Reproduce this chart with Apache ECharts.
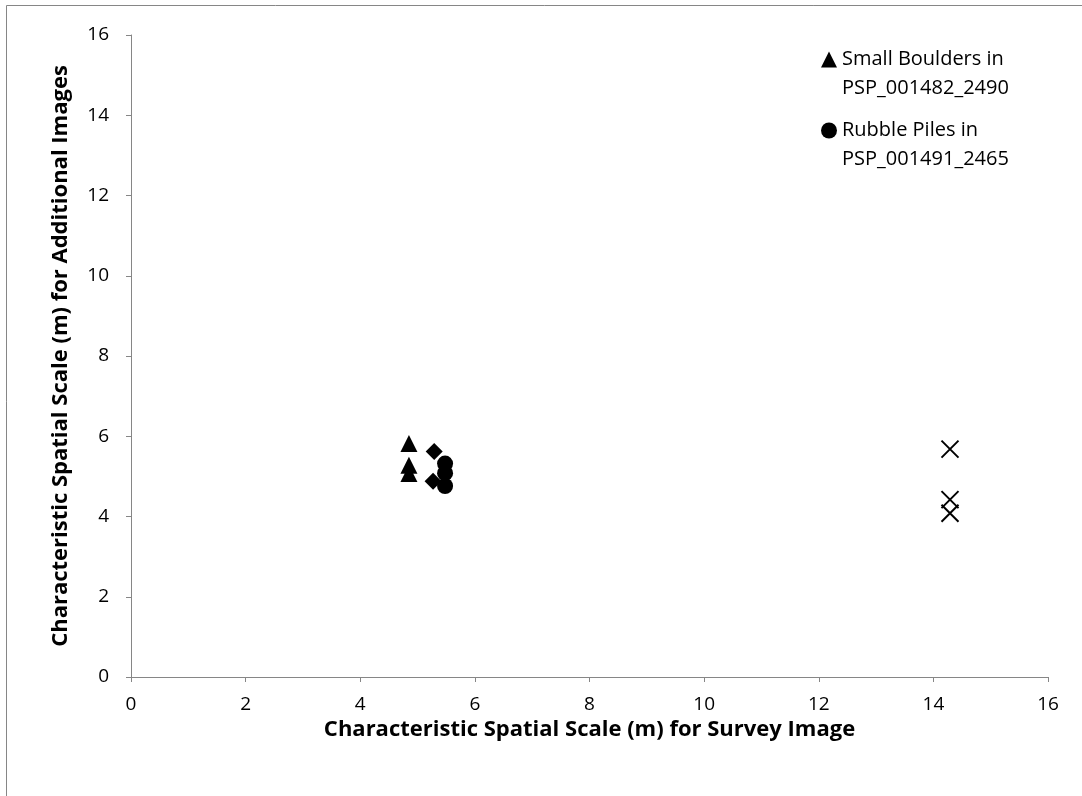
<!DOCTYPE html>
<html>
<head>
<meta charset="utf-8">
<script src="https://cdn.jsdelivr.net/npm/echarts@6/dist/echarts.min.js"></script>
<style>
  html, body { margin: 0; padding: 0; background: #fff; }
  #chart { width: 1082px; height: 796px; }
</style>
</head>
<body>
<div id="chart"></div>
<script>
// Survey-image scale (x) vs additional-image scale (y), metres
const boulders = [[4.85, 5.82], [4.85, 5.28], [4.85, 5.07]];
const rubble = [[5.48, 5.32], [5.48, 5.08], [5.48, 4.76]];
const diamonds = [[5.29, 5.62], [5.27, 4.88]];
const crosses = [[14.29, 5.68], [14.29, 4.42], [14.29, 4.08]];
const axisTicks = [0, 2, 4, 6, 8, 10, 12, 14, 16];

const legendNames = ['Small Boulders in\nPSP_001482_2490', 'Rubble Piles in\nPSP_001491_2465'];
const xTitle = 'Characteristic Spatial Scale (m) for Survey Image';
const yTitle = 'Characteristic Spatial Scale (m) for Additional Images';

const FONT = '"Open Sans", sans-serif';
const axisColor = '#868686';
const LEGEND_LINE = 29;

const chart = echarts.init(document.getElementById('chart'), null, { renderer: 'canvas' });

function valueAxis(name, gap, margin) {
  return {
    type: 'value',
    min: axisTicks[0],
    max: axisTicks[axisTicks.length - 1],
    interval: axisTicks[1] - axisTicks[0],
    name: name,
    nameLocation: 'middle',
    nameGap: gap,
    nameTextStyle: { fontFamily: FONT, fontWeight: 'bold', fontSize: 22, color: '#000' },
    axisLine: { show: true, lineStyle: { color: axisColor, width: 1 } },
    axisTick: { show: true, length: 5, inside: false, lineStyle: { color: axisColor } },
    axisLabel: { fontFamily: FONT, fontSize: 19, color: '#000', margin: margin },
    splitLine: { show: false }
  };
}

const crossPath = 'path://M0,0L10,10M10,0L0,10';

chart.setOption({
  animation: false,
  backgroundColor: '#fff',
  graphic: [{
    type: 'rect',
    shape: { x: 6.5, y: 5.5, width: 1090, height: 800 },
    style: { fill: 'none', stroke: axisColor, lineWidth: 1 },
    silent: true,
    z: -1
  }],
  grid: { left: 131, top: 35, right: 34, bottom: 119, containLabel: false },
  xAxis: valueAxis(xTitle, 40, 18),
  yAxis: valueAxis(yTitle, 59, 22),
  legend: {
    orient: 'vertical',
    left: 816,
    top: 11,
    itemWidth: 16,
    itemHeight: 16,
    itemGap: -16,
    data: [
      { name: legendNames[0], icon: 'triangle' },
      { name: legendNames[1], icon: 'circle' }
    ],
    // a leading blank line keeps the marker level with the first text line
    formatter: function (name) { return '\n' + name; },
    textStyle: { fontFamily: FONT, fontSize: 20, color: '#000', lineHeight: LEGEND_LINE }
  },
  series: [
    {
      name: legendNames[0], type: 'scatter', data: boulders,
      symbol: 'triangle', symbolSize: 17,
      itemStyle: { color: '#000', opacity: 1 }
    },
    {
      name: 'diamonds', type: 'scatter', data: diamonds,
      symbol: 'diamond', symbolSize: 17,
      itemStyle: { color: '#000', opacity: 1 }
    },
    {
      name: legendNames[1], type: 'scatter', data: rubble,
      symbol: 'circle', symbolSize: 16,
      itemStyle: { color: '#000', opacity: 1 }
    },
    {
      name: 'crosses', type: 'scatter', data: crosses,
      symbol: crossPath, symbolSize: 17,
      itemStyle: { color: 'none', borderColor: '#000', borderWidth: 2, opacity: 1 }
    }
  ]
});
</script>
</body>
</html>
